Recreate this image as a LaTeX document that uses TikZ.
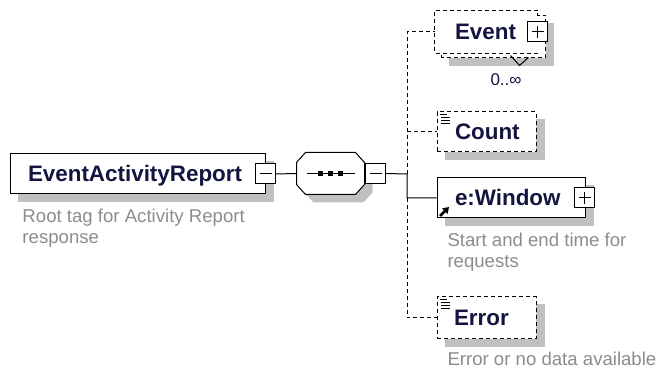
\documentclass[tikz,border=0pt]{standalone}
\usepackage{fontspec}
\setmainfont{Liberation Sans}
\usetikzlibrary{calc,backgrounds,arrows.meta}
\definecolor{titlecol}{RGB}{20,20,64}
\definecolor{desccol}{RGB}{140,140,140}
\definecolor{shadowcol}{RGB}{192,192,192}
\newcommand\shadowof[1]{\fill[shadowcol] ($(#1.north west)+(8,8)$) rectangle ($(#1.south east)+(8,8)$);}
\newcommand\octpath[1]{($(seq.north west)+(9+#1,#1)$) -- ($(seq.north east)+(-9+#1,#1)$) -- ($(seq.north east)+(#1,10+#1)$) -- ($(seq.south east)+(#1,-10+#1)$) -- ($(seq.south east)+(-9+#1,#1)$) -- ($(seq.south west)+(9+#1,#1)$) -- ($(seq.south west)+(#1,-10+#1)$) -- ($(seq.north west)+(#1,10+#1)$) -- cycle}
\newcommand\textlines[1]{%
  \draw[line width=1pt] ($(#1.north west)+(3,3)$) -- ++(7,0);
  \draw[line width=1pt] ($(#1.north west)+(4,6)$) -- ++(9,0);
  \draw[line width=1pt] ($(#1.north west)+(4,9)$) -- ++(9,0);
  \draw[line width=1pt] ($(#1.north west)+(4,12)$) -- ++(9,0);}
\begin{document}
\begin{tikzpicture}[x=1pt,y=-1pt,line width=1pt,
  elem/.style={rectangle, fill=white, minimum height=40, inner ysep=0,
    text height=15.5, text depth=0, align=left,
    font=\fontsize{22.4}{26}\selectfont\bfseries, text=titlecol},
  solidbox/.style={draw=black},
  optline/.style={draw=black, dash pattern=on 4pt off 3pt},
  pmbox/.style={rectangle, draw=black, fill=white, minimum size=20, inner sep=0},
  minusbox/.style={pmbox, path picture={\draw[line width=1pt]
      ([xshift=4pt]path picture bounding box.west) -- ([xshift=-4pt]path picture bounding box.east);}},
  plusbox/.style={pmbox, path picture={\draw[line width=1pt]
      ([xshift=4pt]path picture bounding box.west) -- ([xshift=-4pt]path picture bounding box.east);
      \draw[line width=1pt]
      ([yshift=-4pt]path picture bounding box.north) -- ([yshift=4pt]path picture bounding box.south);}},
  desc/.style={font=\fontsize{18.6}{21}\selectfont, text=desccol, inner sep=0, anchor=base west, align=left},
  mult/.style={font=\fontsize{17}{19}\selectfont, text=titlecol, inner sep=0, anchor=base west}
]
\useasboundingbox (0,0) rectangle (659,371);

% root element
\node[elem, solidbox, text width=219, inner xsep=18] (ear) at (137.5,174) {EventActivityReport};
\node[minusbox] (earm) at (ear.east) {};
\node[desc] (eardesc) at (22,244) {Root tag for Activity Report\\response};

% sequence compositor
\node[rectangle, minimum width=67, minimum height=41, inner sep=0] (seq) at (330.5,173.5) {};
\draw[fill=white] \octpath{0};
\draw ($(seq.center)+(-24,0)$) -- ($(seq.center)+(24,0)$);
\fill ($(seq.center)+(-12.5,-2.5)$) rectangle +(5,5);
\fill ($(seq.center)+(-2.5,-2.5)$) rectangle +(5,5);
\fill ($(seq.center)+(7.5,-2.5)$) rectangle +(5,5);
\node[minusbox] (seqm) at ($(seq.east)+(11,0)$) {};

\coordinate (bus) at (407,174);
\coordinate (bus2) at (407,198);

% Event
\node[elem, text width=62, inner xsep=20, minimum height=42] (event) at (486,32) {Event};
\draw[optline] (event.south east) -- (event.south west) -- (event.north west) -- (event.north east)
  -- ++(0,5) -- ++(8,0) -- ++(0,42) -- ++(-104,0) -- ++(0,-5);
\draw ($(event.south east)+(-27,2)$) -- ++(9,10) -- ++(9,-8);
\node[plusbox] (eventp) at (event.east) {};
\node[mult] (eventm) at (490,86) {0..∞};

% Count
\node[elem, optline, text width=63, inner xsep=18] (count) at (486.5,132) {Count};
\textlines{count}

% e:Window
\node[elem, solidbox, text width=112, inner xsep=18] (win) at (511,198) {e:Window};
\node[plusbox] (winp) at ($(win.east)+(-1,0)$) {};
\draw[line width=2.6pt, -{Triangle[length=6pt,width=7.5pt]}] ($(win.south west)+(3.5,-2.5)$) -- ++(9,-9);
\node[desc] (windesc) at (447,268) {Start and end time for\\requests};

% Error
\node[elem, optline, text width=65, inner xsep=17, minimum height=42] (error) at (486.5,318) {Error};
\textlines{error}
\node[desc] (errdesc) at (447,366) {Error or no data available};

% connectors
\draw (earm.east) -- (seq.west);
\draw (seqm.east) -- (bus) |- (win.west);
\draw[optline] (bus) |- (event.west);
\draw[optline] (bus) |- (count.west);
\draw[optline] (bus2) |- (error.west);

\begin{pgfonlayer}{background}
  \shadowof{ear}
  \shadowof{count}
  \shadowof{win}
  \shadowof{error}
  \fill[shadowcol] \octpath{8};
  \fill[shadowcol] ($(event.north west)+(14,13)$) rectangle ($(event.south east)+(16,13)$);
  \fill[white] ($(event.north west)+(6,5)$) rectangle ($(event.south east)+(8,5)$);
\end{pgfonlayer}
\end{tikzpicture}
\end{document}
